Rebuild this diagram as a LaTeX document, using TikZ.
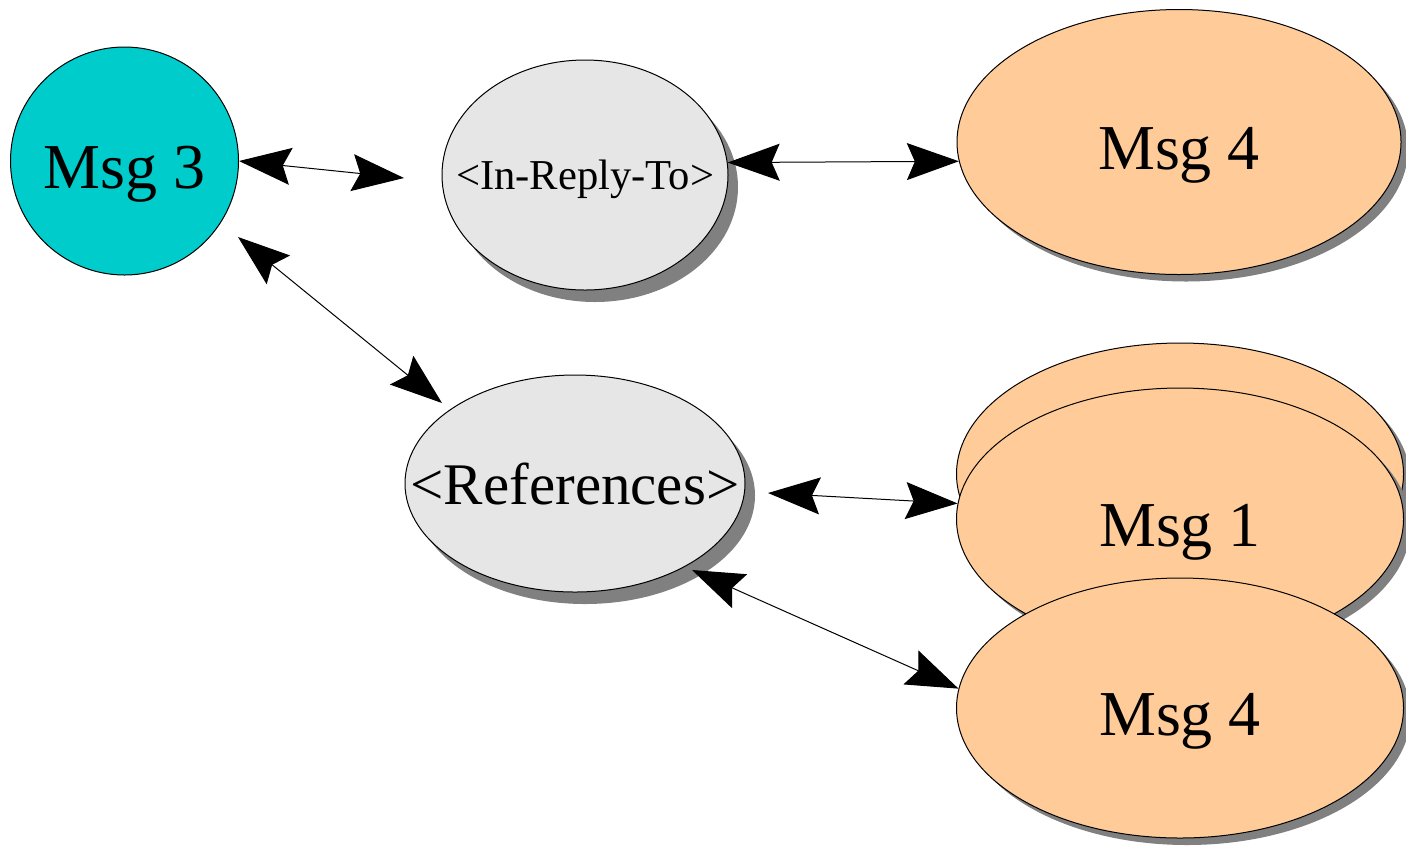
\documentclass[tikz,border=0pt]{standalone}
\usepackage{fontspec}
\setmainfont{Liberation Serif}
\usetikzlibrary{arrows.meta,shapes.geometric,shadows}

\definecolor{msgcyan}{HTML}{00CCCC}
\definecolor{msgorange}{HTML}{FFCC99}
\definecolor{hdrgrey}{HTML}{E6E6E6}
\definecolor{shadowgrey}{HTML}{808080}

\begin{document}
\begin{tikzpicture}[x=0.5pt,y=-0.5pt,line width=0.5pt,
                    >={Stealth[length=26pt,width=18.5pt,inset=4pt]}]
\tikzstyle{every node}=[draw=black,inner sep=0pt]
\tikzstyle{msgtext}=[font=\fontsize{32pt}{36pt}\selectfont,text height=27pt,text depth=0pt]
\tikzstyle{msg}=[ellipse,fill=msgorange,msgtext,minimum width=223.5pt,minimum height=131pt,
                 drop shadow={shadow xshift=3.5pt,shadow yshift=-3.5pt,fill=shadowgrey,opacity=1}]
\tikzstyle{hdr}=[ellipse,fill=hdrgrey,text depth=0pt,inner xsep=-30pt,
                 drop shadow={shadow xshift=5pt,shadow yshift=-6pt,fill=shadowgrey,opacity=1}]

\useasboundingbox (0,0) rectangle (1406,848);

        \node[circle,fill=msgcyan,msgtext,minimum size=114pt]          (msg3)     at (124.5,161) {Msg 3};
        \node[hdr,minimum width=143pt,minimum height=115pt,
              font=\fontsize{21.3pt}{24pt}\selectfont]                (irt)      at (585,175)   {\textless In-Reply-To\textgreater};
        \node[msg,minimum width=222pt,minimum height=132.5pt]          (msg4a)    at (1179,142)  {Msg 4};

        \node[hdr,minimum width=170pt,minimum height=108.5pt,
              font=\fontsize{29.5pt}{33pt}\selectfont]                (refs)     at (575,483.5) {\textless References\textgreater};
        \node[msg]                                                     (msg1back) at (1180,474)  {};
        \node[msg]                                                     (msg1)     at (1180,519)  {Msg 1};
        \node[msg,minimum height=130pt]                                (msg4b)    at (1180,708)  {Msg 4};

        % free arrow ends
        \coordinate (irtin)   at (404,178);
        \coordinate (msg3out) at (238,237);
        \coordinate (refsin)  at (442,403);
        \coordinate (refsout) at (768,493);
        \coordinate (refslow) at (692,570);

        \path[<->]
        (msg3.east) edge (irtin)
        (irt.5)     edge (msg4a.185)
        (msg3out)   edge (refsin)
        (refsout)   edge (msg1.176)
        (refslow)   edge (msg4b.175)
        ; %end path

\end{tikzpicture}
\end{document}
